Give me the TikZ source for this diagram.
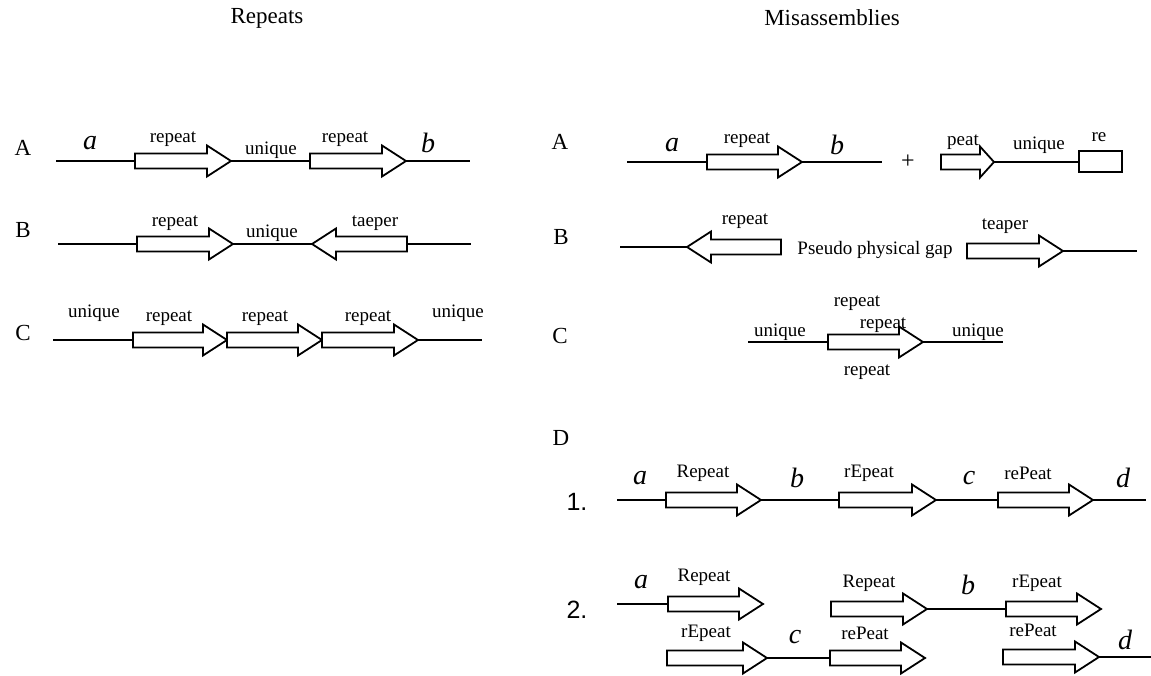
\documentclass[tikz,border=0pt]{standalone}
\usepackage{fontspec}
\setmainfont{Liberation Serif}
\newfontfamily\numfont{Liberation Sans}
\begin{document}
\begin{tikzpicture}[x=1pt,y=-1pt,
  seg/.style={line width=1.8pt},
  blockarrow/.style={line width=1.8pt,fill=white,line join=miter},
  lbl/.style={inner sep=0pt,font=\fontsize{19}{22}\selectfont},
  var/.style={inner sep=0pt,font=\fontsize{28}{30}\selectfont\itshape},
  rowlbl/.style={inner sep=0pt,font=\fontsize{23}{26}\selectfont},
  numlbl/.style={inner sep=0pt,font=\numfont\fontsize{25}{28}\selectfont}]

% right-pointing block arrow: [head length]{tail x}{tip x}{y}
\newcommand{\rarr}[4][24]{%
  \draw[blockarrow] (#2,{#4-7.5}) -- ({#3-#1},{#4-7.5}) -- ({#3-#1},{#4-15.5})
    -- (#3,#4) -- ({#3-#1},{#4+15.5}) -- ({#3-#1},{#4+7.5}) -- (#2,{#4+7.5}) -- cycle;}
% left-pointing block arrow: [head length]{tip x}{tail x}{y}
\newcommand{\larr}[4][24]{%
  \draw[blockarrow] (#3,{#4-7.5}) -- ({#2+#1},{#4-7.5}) -- ({#2+#1},{#4-15.5})
    -- (#2,#4) -- ({#2+#1},{#4+15.5}) -- ({#2+#1},{#4+7.5}) -- (#3,{#4+7.5}) -- cycle;}

\useasboundingbox (0,0) rectangle (1151,676);

% ---------- titles ----------
\node[rowlbl] (tRep) at (267,18) {Repeats};
\node[rowlbl] (tMis) at (832,18) {Misassemblies};

% ================= Repeats =================
% A
\node[rowlbl] (lA) at (23,148) {A};
\node[var] (lAa) at (90,143) {a};
\node[lbl] (lAr1) at (173,139) {repeat};
\node[lbl] (lAu) at (271,150) {unique};
\node[lbl] (lAr2) at (345,139) {repeat};
\node[var] (lAb) at (428,143) {b};
\draw[seg] (56,161) -- (135,161);
\rarr{135}{231}{161}
\draw[seg] (231,161) -- (310,161);
\rarr{310}{406}{161}
\draw[seg] (406,161) -- (470,161);

% B
\node[rowlbl] (lB) at (23,230) {B};
\node[lbl] (lBr) at (175,223) {repeat};
\node[lbl] (lBu) at (272,233) {unique};
\node[lbl] (lBt) at (375,223) {taeper};
\draw[seg] (58,244) -- (137,244);
\rarr{137}{233}{244}
\draw[seg] (233,244) -- (312,244);
\larr{312}{407}{244}
\draw[seg] (407,244) -- (471,244);

% C
\node[rowlbl] (lC) at (23,333) {C};
\node[lbl] (lCu1) at (94,313) {unique};
\node[lbl] (lCr1) at (169,318) {repeat};
\node[lbl] (lCr2) at (265,318) {repeat};
\node[lbl] (lCr3) at (368,318) {repeat};
\node[lbl] (lCu2) at (458,313) {unique};
\draw[seg] (53,340) -- (133,340);
\rarr{133}{227}{340}
\rarr{227}{322}{340}
\rarr{322}{418}{340}
\draw[seg] (418,340) -- (482,340);

% ================= Misassemblies =================
% A
\node[rowlbl] (rA) at (560,142) {A};
\node[var] (rAa) at (672,145) {a};
\node[lbl] (rAr) at (747,140) {repeat};
\node[var] (rAb) at (837,145) {b};
\node[inner sep=0pt,font=\fontsize{24}{26}\selectfont] (rAplus) at (908,162) {+};
\node[lbl] (rAp) at (963,142) {peat};
\node[lbl] (rAu) at (1039,145) {unique};
\node[lbl] (rAre) at (1099,137) {re};
\draw[seg] (627,162) -- (707,162);
\rarr{707}{802}{162}
\draw[seg] (802,162) -- (882,162);
\rarr[14]{941}{994}{162}
\draw[seg] (994,162) -- (1079,162);
\draw[blockarrow] (1079,151) rectangle (1122,172);

% B
\node[rowlbl] (rB) at (561,237) {B};
\node[lbl] (rBr) at (745,221) {repeat};
\node[lbl] (rBgap) at (875,250) {Pseudo physical gap};
\node[lbl] (rBt) at (1005,226) {teaper};
\draw[seg] (620,247) -- (687,247);
\larr{687}{781}{247}
\rarr{967}{1063}{251}
\draw[seg] (1063,251) -- (1137,251);

% C
\node[rowlbl] (rC) at (560,336) {C};
\node[lbl] (rCu1) at (780,332) {unique};
\node[lbl] (rCr1) at (857,303) {repeat};
\node[lbl] (rCr2) at (883,325) {repeat};
\node[lbl] (rCr3) at (867,372) {repeat};
\node[lbl] (rCu2) at (978,332) {unique};
\draw[seg] (748,342) -- (828,342);
\rarr{828}{923}{342}
\draw[seg] (923,342) -- (1003,342);

% D
\node[rowlbl] (rD) at (561,438) {D};

% D.1
\node[numlbl] (n1) at (577,502) {1.};
\node[var] (d1a) at (640,478) {a};
\node[lbl] (d1r1) at (703,473) {Repeat};
\node[var] (d1b) at (797,478) {b};
\node[lbl] (d1r2) at (869,473) {rEpeat};
\node[var] (d1c) at (969,478) {c};
\node[lbl] (d1r3) at (1028,473) {rePeat};
\node[var] (d1d) at (1123,478) {d};
\draw[seg] (617,500) -- (666,500);
\rarr{666}{761}{500}
\draw[seg] (761,500) -- (839,500);
\rarr{839}{936}{500}
\draw[seg] (936,500) -- (998,500);
\rarr{998}{1093}{500}
\draw[seg] (1093,500) -- (1146,500);

% D.2
\node[numlbl] (n2) at (577,610) {2.};
\node[var] (d2a) at (641,582) {a};
\node[lbl] (d2r1) at (704,577) {Repeat};
\node[lbl] (d2r2) at (869,583) {Repeat};
\node[var] (d2b) at (968,585) {b};
\node[lbl] (d2r3) at (1037,583) {rEpeat};
\node[lbl] (d2r4) at (706,633) {rEpeat};
\node[var] (d2c) at (795,637) {c};
\node[lbl] (d2r5) at (865,633) {rePeat};
\node[lbl] (d2r6) at (1033,630) {rePeat};
\node[var] (d2d) at (1125,640) {d};
% first row
\draw[seg] (617,604) -- (668,604);
\rarr{668}{763}{604}
\rarr{831}{927}{609}
\draw[seg] (927,609) -- (1006,609);
\rarr{1006}{1101}{609}
% second row
\rarr{667}{767}{658}
\draw[seg] (767,658) -- (830,658);
\rarr{830}{925}{658}
\rarr{1003}{1099}{657}
\draw[seg] (1099,657) -- (1151,657);

\end{tikzpicture}
\end{document}
